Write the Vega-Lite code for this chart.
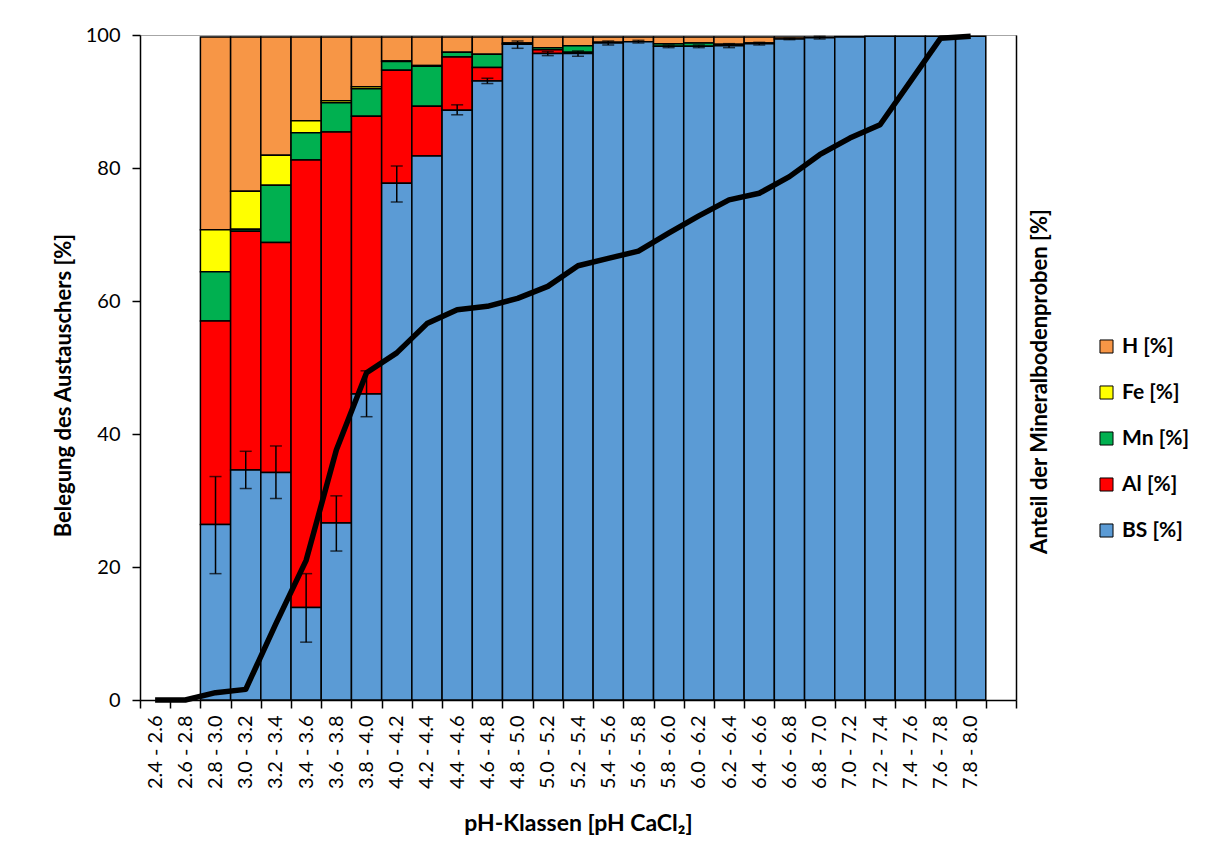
{
  "$schema": "https://vega.github.io/schema/vega-lite/v6.json",
  "width": 876,
  "height": 665,
  "autosize": {"type": "none"},
  "padding": {"left": 140, "top": 35, "right": 197, "bottom": 163},
  "background": "white",
  "config": {
    "font": "Lato",
    "view": {"stroke": "#a6a6a6", "strokeWidth": 1},
    "axis": {"domainColor": "black", "tickColor": "black", "labelColor": "black", "titleColor": "black", "domainWidth": 1.5, "tickWidth": 1.5, "grid": false}
  },
  "data": {
    "values": [
      {"pH": "2.4 - 2.6", "Anteil": 0},
      {"pH": "2.6 - 2.8", "Anteil": 0},
      {"pH": "2.8 - 3.0", "BS": 26.4, "Al": 30.6, "Mn": 7.4, "Fe": 6.3, "H": 29.0, "lo": 19.0, "hi": 33.6, "Anteil": 1.1},
      {"pH": "3.0 - 3.2", "BS": 34.6, "Al": 35.9, "Mn": 0.3, "Fe": 5.7, "H": 23.2, "lo": 31.8, "hi": 37.4, "Anteil": 1.6},
      {"pH": "3.2 - 3.4", "BS": 34.2, "Al": 34.6, "Mn": 8.6, "Fe": 4.5, "H": 17.8, "lo": 30.3, "hi": 38.2, "Anteil": 11.5},
      {"pH": "3.4 - 3.6", "BS": 13.9, "Al": 67.3, "Mn": 4.1, "Fe": 1.8, "H": 12.6, "lo": 8.7, "hi": 19.0, "Anteil": 21.0},
      {"pH": "3.6 - 3.8", "BS": 26.6, "Al": 58.8, "Mn": 4.4, "Fe": 0.3, "H": 9.6, "lo": 22.4, "hi": 30.7, "Anteil": 37.6},
      {"pH": "3.8 - 4.0", "BS": 46.0, "Al": 41.8, "Mn": 4.1, "Fe": 0.3, "H": 7.5, "lo": 42.6, "hi": 49.5, "Anteil": 49.2},
      {"pH": "4.0 - 4.2", "BS": 77.7, "Al": 17.0, "Mn": 1.3, "Fe": 0.1, "H": 3.6, "lo": 74.9, "hi": 80.3, "Anteil": 52.2},
      {"pH": "4.2 - 4.4", "BS": 81.8, "Al": 7.5, "Mn": 6.0, "Fe": 0.1, "H": 4.3, "Anteil": 56.6},
      {"pH": "4.4 - 4.6", "BS": 88.7, "Al": 8.0, "Mn": 0.7, "H": 2.3, "lo": 88.0, "hi": 89.5, "Anteil": 58.7},
      {"pH": "4.6 - 4.8", "BS": 93.1, "Al": 2.0, "Mn": 2.0, "H": 2.6, "lo": 92.7, "hi": 93.5, "Anteil": 59.2},
      {"pH": "4.8 - 5.0", "BS": 98.6, "Al": 0.1, "Mn": 0.1, "H": 0.9, "lo": 98.0, "hi": 99.1, "Anteil": 60.4},
      {"pH": "5.0 - 5.2", "BS": 97.2, "Al": 0.6, "Mn": 0.3, "H": 1.6, "lo": 96.9, "hi": 97.5, "Anteil": 62.2},
      {"pH": "5.2 - 5.4", "BS": 97.2, "Al": 0.2, "Mn": 1.0, "H": 1.3, "lo": 96.8, "hi": 97.6, "Anteil": 65.3},
      {"pH": "5.4 - 5.6", "BS": 98.8, "Mn": 0.1, "H": 0.8, "lo": 98.5, "hi": 99.1, "Anteil": 66.4},
      {"pH": "5.6 - 5.8", "BS": 99.0, "H": 0.7, "lo": 98.8, "hi": 99.2, "Anteil": 67.5},
      {"pH": "5.8 - 6.0", "BS": 98.3, "Mn": 0.4, "H": 1.0, "lo": 98.1, "hi": 98.5, "Anteil": 70.2},
      {"pH": "6.0 - 6.2", "BS": 98.3, "Mn": 0.5, "H": 0.9, "lo": 98.1, "hi": 98.5, "Anteil": 72.8},
      {"pH": "6.2 - 6.4", "BS": 98.4, "Mn": 0.2, "H": 1.1, "lo": 98.1, "hi": 98.7, "Anteil": 75.2},
      {"pH": "6.4 - 6.6", "BS": 98.7, "Mn": 0.1, "H": 0.9, "lo": 98.5, "hi": 98.9, "Anteil": 76.2},
      {"pH": "6.6 - 6.8", "BS": 99.4, "H": 0.3, "lo": 99.3, "hi": 99.5, "Anteil": 78.7},
      {"pH": "6.8 - 7.0", "BS": 99.6, "H": 0.1, "lo": 99.4, "hi": 99.8, "Anteil": 82.0},
      {"pH": "7.0 - 7.2", "BS": 99.7, "H": 0.05, "Anteil": 84.5},
      {"pH": "7.2 - 7.4", "BS": 99.8, "Anteil": 86.5},
      {"pH": "7.4 - 7.6", "BS": 99.8, "Anteil": 93.0},
      {"pH": "7.6 - 7.8", "BS": 99.8, "Anteil": 99.5},
      {"pH": "7.8 - 8.0", "BS": 99.8, "Anteil": 99.8}
    ]
  },
  "layer": [
    {
      "layer": [
        {
          "transform": [
            {"fold": ["H", "Fe", "Mn", "Al", "BS"], "as": ["Komponente", "Wert"]},
            {"filter": "isValid(datum.Wert) && datum.Wert > 0"},
            {"calculate": "indexof(['BS','Al','Mn','Fe','H'], datum.Komponente)", "as": "ord"}
          ],
          "mark": {"type": "bar", "stroke": "black", "strokeWidth": 1.5},
          "encoding": {
            "x": {
              "field": "pH", "type": "nominal", "sort": null,
              "scale": {"domain": ["2.4 - 2.6","2.6 - 2.8","2.8 - 3.0","3.0 - 3.2","3.2 - 3.4","3.4 - 3.6","3.6 - 3.8","3.8 - 4.0","4.0 - 4.2","4.2 - 4.4","4.4 - 4.6","4.6 - 4.8","4.8 - 5.0","5.0 - 5.2","5.2 - 5.4","5.4 - 5.6","5.6 - 5.8","5.8 - 6.0","6.0 - 6.2","6.2 - 6.4","6.4 - 6.6","6.6 - 6.8","6.8 - 7.0","7.0 - 7.2","7.2 - 7.4","7.4 - 7.6","7.6 - 7.8","7.8 - 8.0"," "], "paddingInner": 0, "paddingOuter": 0},
              "axis": {"title": "pH-Klassen [pH CaCl₂]", "labelAngle": -90, "tickBand": "extent", "tickSize": 8, "labelPadding": 7, "labelFontSize": 20, "titleFontSize": 23, "titleFontWeight": "bold", "titlePadding": 24}
            },
            "y": {
              "field": "Wert", "type": "quantitative", "stack": "zero",
              "scale": {"domain": [0, 100], "nice": false},
              "axis": {"title": "Belegung des Austauschers [%]", "values": [0, 20, 40, 60, 80, 100], "tickSize": 8, "labelPadding": 12, "labelFontSize": 20, "titleFontSize": 22, "titleFontWeight": "bold", "titlePadding": 10, "titleY": 350}
            },
            "color": {
              "field": "Komponente", "type": "nominal",
              "scale": {"domain": ["H", "Fe", "Mn", "Al", "BS"], "range": ["#F79646", "#FFFF00", "#00B050", "#FF0000", "#5B9BD5"]},
              "legend": {"title": null, "orient": "none", "legendX": 956, "legendY": 301, "symbolType": "square", "symbolSize": 170, "symbolStrokeColor": "black", "symbolStrokeWidth": 1, "labelFontSize": 21, "labelFontWeight": "bold", "labelExpr": "datum.label + ' [%]'", "rowPadding": 24, "labelOffset": 5, "padding": 0}
            },
            "order": {"field": "ord", "type": "quantitative"}
          }
        },
        {
          "transform": [{"filter": "isValid(datum.lo)"}],
          "mark": {"type": "rule", "color": "black", "strokeWidth": 1.5},
          "encoding": {
            "x": {"field": "pH", "type": "nominal", "sort": null},
            "y": {"field": "lo", "type": "quantitative"},
            "y2": {"field": "hi"}
          }
        },
        {
          "transform": [{"filter": "isValid(datum.lo)"}],
          "mark": {"type": "tick", "color": "black", "size": 12, "thickness": 1.5},
          "encoding": {
            "x": {"field": "pH", "type": "nominal", "sort": null},
            "y": {"field": "lo", "type": "quantitative"}
          }
        },
        {
          "transform": [{"filter": "isValid(datum.hi)"}],
          "mark": {"type": "tick", "color": "black", "size": 12, "thickness": 1.5},
          "encoding": {
            "x": {"field": "pH", "type": "nominal", "sort": null},
            "y": {"field": "hi", "type": "quantitative"}
          }
        }
      ]
    },
    {
      "mark": {"type": "line", "color": "black", "strokeWidth": 5.5, "strokeJoin": "round"},
      "encoding": {
        "x": {"field": "pH", "type": "nominal", "sort": null},
        "y": {
          "field": "Anteil", "type": "quantitative",
          "scale": {"domain": [0, 100], "nice": false},
          "axis": {"orient": "right", "title": "Anteil der Mineralbodenproben [%]", "labels": false, "ticks": false, "titleAngle": 270, "titleBaseline": "top", "titleFontSize": 22, "titleFontWeight": "bold", "titlePadding": 13, "titleY": 346}
        }
      }
    }
  ],
  "resolve": {"scale": {"y": "independent"}}
}
